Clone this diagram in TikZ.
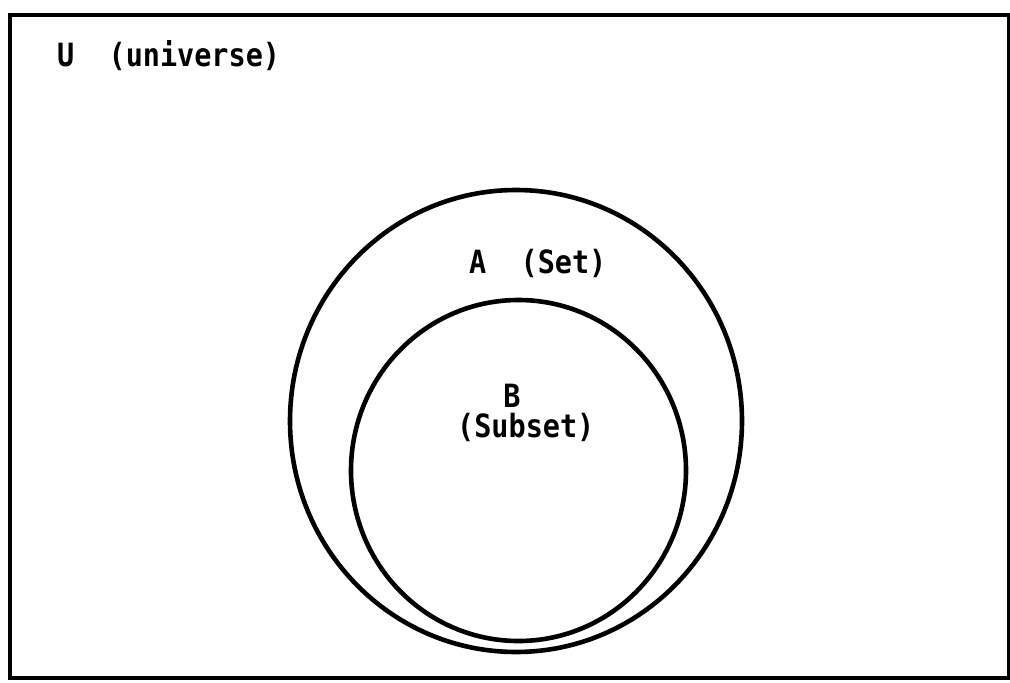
\documentclass[tikz,border=0pt]{standalone}
\usepackage{fontspec}
\usetikzlibrary{shapes.geometric}
\newfontfamily\lgfont{DejaVu Sans Mono}[BoldFont={DejaVu Sans Mono Bold}]
\tikzset{
  frame/.style={draw=black, line width=3.5pt},
  setline/.style={draw=black, line width=4.6pt, ellipse, inner sep=0pt},
  lbl/.style={inner sep=0pt, font=\lgfont\bfseries\fontsize{32}{35}\selectfont, xscale=0.89},
}
\begin{document}
\begin{tikzpicture}[x=1pt,y=-1pt]
\useasboundingbox (0,0) rectangle (1010,683);
\fill[white] (0,0) rectangle (1010,683);
\coordinate (tl) at (10,15);
\coordinate (br) at (1009,678);
\draw[frame] (tl) rectangle (br);
% sets
\node[setline, minimum width=452pt, minimum height=462pt] (A) at (516,421) {};
\node[setline, minimum width=335pt, minimum height=341pt] (B) at (518.5,470.5) {};
\node[lbl, anchor=base west] (U) at (57,66) {U\ \ (universe)};
\node[lbl, anchor=base west] (Al) at (469,273) {A\ \ (Set)};
\node[lbl, anchor=base] (Bl) at (512,407) {B};
\node[lbl, anchor=base west] (Bs) at (457,437) {(Subset)};
\end{tikzpicture}
\end{document}
